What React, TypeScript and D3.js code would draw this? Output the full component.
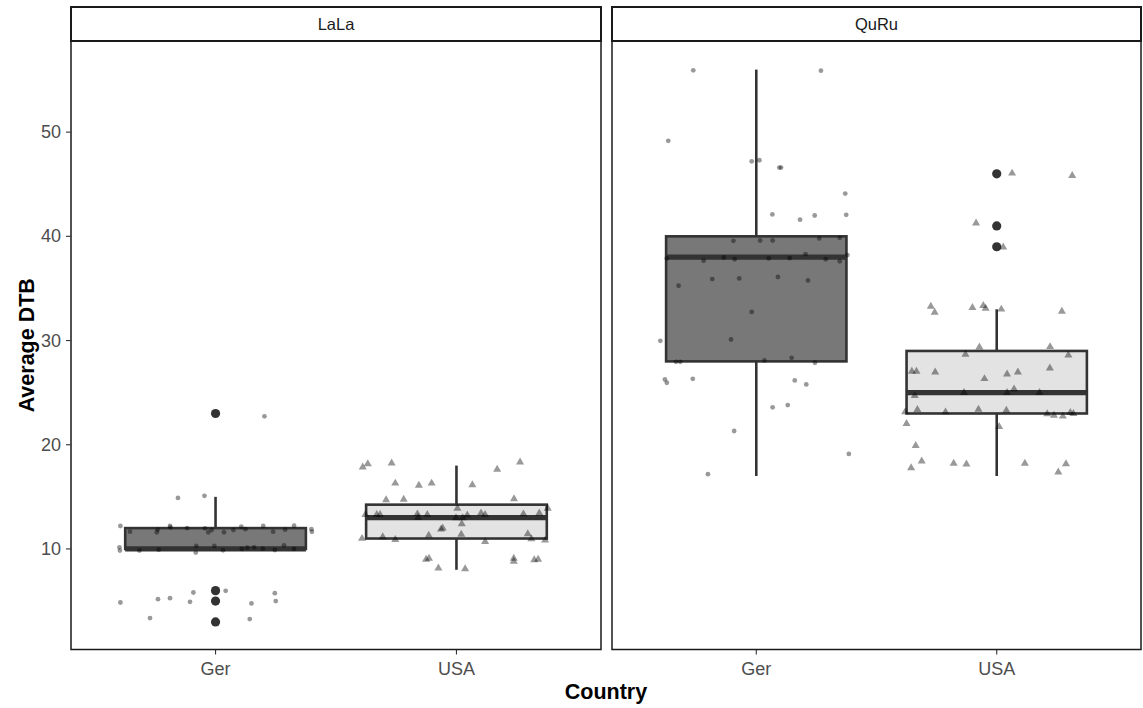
import React from "react";
import * as d3 from "d3";

// Facets and categories
const panels = ["LaLa", "QuRu"];
const countries = ["Ger", "USA"];
const yTicks = [10, 20, 30, 40, 50];

// Box statistics, one entry per facet/country group:
// LaLa-Ger, LaLa-USA, QuRu-Ger, QuRu-USA
const whiskerLow = [10, 8, 17, 17];
const quartile1 = [10, 11, 28, 23];
const medians = [10, 13, 38, 25];
const quartile3 = [12, 14.25, 40, 29];
const whiskerHigh = [15, 18, 56, 33];

// Outliers per group
const outliersLaLaGer = [23, 6, 5, 3];
const outliersLaLaUsa: number[] = [];
const outliersQuRuGer: number[] = [];
const outliersQuRuUsa = [46, 41, 39];

// Jittered observations: [horizontal jitter in category units, value]
const jitterLaLaGer: [number, number][] = [
  [0.203, 22.73], [-0.156, 14.9], [-0.046, 15.1], [-0.395, 12.2], [-0.399, 10.16],
  [-0.397, 9.84], [0.398, 11.9], [0.4, 11.65], [-0.082, 9.65], [0.042, 5.98],
  [-0.092, 5.82], [0.246, 5.76], [-0.395, 4.86], [-0.239, 5.18], [-0.189, 5.28],
  [-0.106, 4.93], [0.149, 4.77], [0.25, 5.0], [-0.272, 3.37], [0.142, 3.27],
  [-0.355, 11.66], [-0.244, 11.6], [-0.24, 11.85], [-0.189, 12.2], [-0.187, 12.07],
  [-0.118, 12.0], [-0.044, 11.98], [-0.03, 11.6], [-0.016, 11.82], [0.035, 11.6],
  [0.074, 11.82], [0.107, 12.13], [0.124, 11.9], [0.198, 12.2], [0.239, 11.66],
  [0.289, 11.85], [0.326, 12.23], [-0.316, 9.84], [-0.236, 9.93], [-0.08, 10.29],
  [-0.005, 10.29], [0.031, 9.87], [0.109, 10.0], [0.132, 10.12], [0.16, 10.16],
  [0.196, 10.03], [0.246, 9.9], [0.284, 10.35], [0.326, 10.0],
];
const jitterLaLaUsa: [number, number][] = [
  [-0.389, 17.85], [-0.368, 18.16], [-0.269, 18.23], [0.169, 17.63], [0.264, 18.33],
  [-0.254, 16.3], [-0.156, 16.1], [-0.103, 16.3], [0.066, 16.15], [-0.292, 14.7],
  [-0.219, 14.75], [0.239, 14.8], [0.004, 13.9], [0.379, 13.9], [-0.378, 13.3],
  [-0.331, 13.3], [-0.317, 13.3], [-0.162, 13.35], [-0.159, 13.0], [-0.121, 13.3],
  [-0.002, 12.97], [0.026, 12.97], [0.045, 13.25], [0.102, 13.44], [0.119, 13.3],
  [0.278, 13.35], [0.344, 13.44], [0.022, 12.4], [-0.064, 11.9], [-0.057, 12.0],
  [-0.392, 11.0], [-0.306, 11.15], [-0.254, 10.9], [-0.115, 11.3], [0.02, 11.4],
  [0.119, 10.7], [0.296, 11.44], [0.311, 10.96], [0.368, 10.83], [-0.126, 9.0],
  [-0.114, 9.1], [0.238, 9.1], [0.238, 8.8], [0.323, 8.95], [0.339, 9.0],
  [-0.075, 8.15], [0.036, 8.09],
];
const jitterQuRuGer: [number, number][] = [
  [-0.262, 55.93], [0.269, 55.9], [-0.366, 49.17], [-0.019, 47.2], [0.013, 47.3],
  [0.096, 46.6], [0.103, 46.6], [0.37, 44.1], [0.067, 42.1], [0.182, 41.6],
  [0.243, 42.0], [0.374, 42.06], [-0.095, 39.57], [0.016, 39.6], [0.068, 39.6],
  [0.262, 39.8], [0.347, 39.86], [-0.372, 37.88], [-0.219, 37.66], [-0.135, 37.97],
  [-0.09, 37.8], [0.052, 37.88], [0.139, 37.9], [0.205, 38.3], [0.289, 37.8],
  [0.347, 37.6], [0.379, 38.2], [-0.183, 35.9], [-0.071, 35.96], [0.09, 36.1],
  [0.215, 35.77], [-0.323, 35.26], [-0.019, 32.75], [-0.399, 29.97], [-0.105, 30.1],
  [-0.334, 27.96], [-0.316, 27.96], [0.034, 28.09], [0.147, 28.34], [0.244, 27.87],
  [-0.38, 26.27], [-0.372, 25.95], [-0.264, 26.33], [0.16, 26.17], [0.208, 25.79],
  [0.068, 23.59], [0.131, 23.81], [-0.092, 21.32], [0.385, 19.12], [-0.201, 17.18],
];
const jitterQuRuUsa: [number, number][] = [
  [0.064, 46.05], [0.314, 45.82], [-0.086, 41.26], [0.027, 38.96], [-0.274, 33.28],
  [-0.258, 32.7], [-0.101, 33.16], [-0.056, 33.35], [-0.046, 33.09], [0.019, 33.0],
  [0.271, 32.8], [-0.072, 29.36], [0.222, 29.4], [-0.13, 28.66], [0.298, 28.6],
  [-0.353, 27.03], [-0.334, 27.03], [-0.256, 26.97], [-0.051, 26.33], [0.043, 26.78],
  [0.088, 26.97], [0.221, 27.35], [-0.341, 24.7], [-0.136, 25.0], [0.043, 25.0],
  [0.072, 25.34], [0.178, 25.0], [-0.381, 23.14], [-0.33, 23.37], [-0.213, 23.14],
  [-0.076, 23.4], [0.04, 23.3], [0.21, 22.95], [0.238, 22.82], [0.275, 22.73],
  [0.306, 23.08], [0.319, 22.99], [-0.375, 22.03], [0.01, 21.74], [-0.337, 19.92],
  [-0.312, 18.42], [-0.356, 17.78], [-0.179, 18.2], [-0.126, 18.13], [0.117, 18.2],
  [0.288, 18.16], [0.256, 17.37],
];

const outlierGroups = [outliersLaLaGer, outliersLaLaUsa, outliersQuRuGer, outliersQuRuUsa];
const jitterGroups = [jitterLaLaGer, jitterLaLaUsa, jitterQuRuGer, jitterQuRuUsa];
const boxFills = ["#787878", "#e3e3e3"];

const W = 1143;
const H = 708;
const panelX: [number, number][] = [
  [71, 601],
  [612, 1141],
];
const panelTop = 41;
const panelBottom = 649.5;
const stripTop = 7;

const FONT = "'Liberation Sans', Arial, Helvetica, sans-serif";

export default function App() {
  const y = d3.scaleLinear().domain([0.35, 58.65]).range([panelBottom, 42]);
  const triangle = d3.symbol().type(d3.symbolTriangle).size(28)();

  return (
    <svg
      width={W}
      height={H}
      style={{ position: "absolute", left: 0, top: 0, background: "#fff" }}
      fontFamily={FONT}
    >
      <rect x={0} y={0} width={W} height={H} fill="#fff" />
      {panels.map((panel, pi) => {
        const [x0, x1] = panelX[pi];
        const x = d3.scalePoint<string>().domain(countries).range([x0, x1]).padding(0.6);
        const step = x.step();
        const boxW = step * 0.75;
        return (
          <g key={panel}>
            {/* strip */}
            <rect
              x={x0}
              y={stripTop}
              width={x1 - x0}
              height={panelTop - stripTop}
              fill="#fff"
              stroke="#1a1a1a"
              strokeWidth={2}
            />
            <text
              x={(x0 + x1) / 2}
              y={(stripTop + panelTop) / 2}
              textAnchor="middle"
              dominantBaseline="central"
              fontSize={16.5}
              fill="#1a1a1a"
            >
              {panel}
            </text>

            {countries.map((c, ci) => {
              const gi = pi * 2 + ci;
              const cx = x(c) as number;
              const bx = cx - boxW / 2;
              return (
                <g key={c}>
                  {/* whiskers */}
                  <line
                    x1={cx}
                    x2={cx}
                    y1={y(quartile3[gi])}
                    y2={y(whiskerHigh[gi])}
                    stroke="#333"
                    strokeWidth={2.6}
                  />
                  <line
                    x1={cx}
                    x2={cx}
                    y1={y(quartile1[gi])}
                    y2={y(whiskerLow[gi])}
                    stroke="#333"
                    strokeWidth={2.6}
                  />
                  {/* box */}
                  <rect
                    x={bx}
                    y={y(quartile3[gi])}
                    width={boxW}
                    height={y(quartile1[gi]) - y(quartile3[gi])}
                    fill={boxFills[ci]}
                    stroke="#333"
                    strokeWidth={2.6}
                  />
                  <line
                    x1={bx}
                    x2={bx + boxW}
                    y1={y(medians[gi])}
                    y2={y(medians[gi])}
                    stroke="#333"
                    strokeWidth={5.2}
                  />
                  {/* outliers */}
                  {outlierGroups[gi].map((v, k) => (
                    <circle key={k} cx={cx} cy={y(v)} r={4.6} fill="#333" />
                  ))}
                  {/* jittered observations */}
                  {jitterGroups[gi].map(([dx, v], k) =>
                    ci === 0 ? (
                      <circle
                        key={k}
                        cx={cx + dx * step}
                        cy={y(v)}
                        r={2.4}
                        fill="#000"
                        fillOpacity={0.4}
                      />
                    ) : (
                      <path
                        key={k}
                        d={triangle}
                        transform={`translate(${cx + dx * step},${y(v)})`}
                        fill="#000"
                        fillOpacity={0.4}
                      />
                    )
                  )}
                  {/* x tick */}
                  <line
                    x1={cx}
                    x2={cx}
                    y1={panelBottom}
                    y2={panelBottom + 5}
                    stroke="#333"
                    strokeWidth={1.1}
                  />
                  <text
                    x={cx}
                    y={panelBottom + 19}
                    textAnchor="middle"
                    dominantBaseline="central"
                    fontSize={18}
                    fill="#4d4d4d"
                  >
                    {c}
                  </text>
                </g>
              );
            })}

            {/* panel border */}
            <rect
              x={x0}
              y={panelTop}
              width={x1 - x0}
              height={panelBottom - panelTop}
              fill="none"
              stroke="#1a1a1a"
              strokeWidth={1.5}
            />
          </g>
        );
      })}

      {/* y axis ticks and labels */}
      {yTicks.map((t) => (
        <g key={t}>
          <line
            x1={panelX[0][0] - 5}
            x2={panelX[0][0]}
            y1={y(t)}
            y2={y(t)}
            stroke="#333"
            strokeWidth={1.1}
          />
          <text
            x={panelX[0][0] - 10}
            y={y(t)}
            textAnchor="end"
            dominantBaseline="central"
            fontSize={18}
            fill="#4d4d4d"
          >
            {t}
          </text>
        </g>
      ))}

      {/* axis titles */}
      <text
        x={(panelX[0][0] + panelX[1][1]) / 2}
        y={692}
        textAnchor="middle"
        dominantBaseline="central"
        fontSize={21.5}
        fontWeight="bold"
        fill="#000"
      >
        Country
      </text>
      <text
        transform={`translate(27,${(panelTop + panelBottom) / 2}) rotate(-90)`}
        textAnchor="middle"
        dominantBaseline="central"
        fontSize={21.5}
        fontWeight="bold"
        fill="#000"
      >
        Average DTB
      </text>
    </svg>
  );
}
